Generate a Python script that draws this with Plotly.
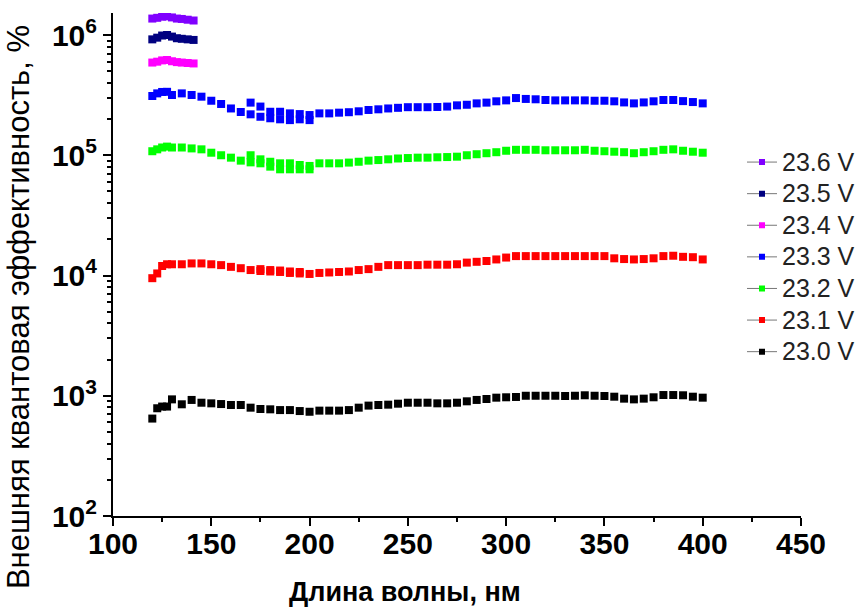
import plotly.graph_objects as go

# Wavelength grid (nm) of the full scans
wl = [120, 122.5, 125, 127.5, 130, 135, 140, 145, 150, 155, 160, 165, 170, 175,
      180, 185, 190, 195, 200, 205, 210, 215, 220, 225, 230, 235, 240, 245,
      250, 255, 260, 265, 270, 275, 280, 285, 290, 295, 300, 305, 310, 315,
      320, 325, 330, 335, 340, 345, 350, 355, 360, 365, 370, 375, 380, 385,
      390, 395, 400]
# Short scans at the highest bias
wl_short = [120, 122.5, 125, 127.5, 130, 132.5, 135, 138, 141]
# Repeated segment of the scan (overlap region)
wl_rep = [170, 175, 180, 185, 190, 195, 200]
wl_rep_red = [175, 180, 185, 190, 195]

eqe_236 = [1.37e6, 1.39e6, 1.42e6, 1.43e6, 1.40e6, 1.37e6, 1.36e6, 1.34e6, 1.32e6]
eqe_235 = [9.2e5, 9.5e5, 9.9e5, 1.0e6, 9.7e5, 9.4e5, 9.3e5, 9.2e5, 9.1e5]
eqe_234 = [5.9e5, 6.0e5, 6.15e5, 6.2e5, 6.05e5, 5.95e5, 5.9e5, 5.85e5, 5.8e5]

eqe_233 = [3.11e5, 3.27e5, 3.36e5, 3.37e5, 3.17e5, 3.27e5, 3.17e5, 3.07e5, 2.84e5,
           2.67e5, 2.45e5, 2.29e5, 2.19e5, 2.09e5, 2.03e5, 1.99e5, 1.96e5, 1.99e5,
           1.96e5, 2.23e5, 2.23e5, 2.26e5, 2.28e5, 2.32e5, 2.38e5, 2.41e5, 2.45e5,
           2.48e5, 2.51e5, 2.51e5, 2.51e5, 2.52e5, 2.54e5, 2.60e5, 2.63e5, 2.70e5,
           2.74e5, 2.81e5, 2.86e5, 2.99e5, 2.94e5, 2.92e5, 2.88e5, 2.86e5, 2.86e5,
           2.86e5, 2.86e5, 2.84e5, 2.84e5, 2.81e5, 2.75e5, 2.70e5, 2.75e5, 2.81e5,
           2.88e5, 2.88e5, 2.82e5, 2.77e5, 2.70e5]
eqe_233_rep = [2.74e5, 2.54e5, 2.30e5, 2.30e5, 2.23e5, 2.20e5, 2.16e5]

eqe_232 = [1.08e5, 1.12e5, 1.16e5, 1.18e5, 1.16e5, 1.16e5, 1.14e5, 1.12e5, 1.05e5,
           1.00e5, 9.55e4, 9.02e4, 8.73e4, 8.57e4, 8.04e4, 7.64e4, 7.64e4, 7.64e4,
           7.64e4, 8.57e4, 8.57e4, 8.57e4, 8.69e4, 8.83e4, 9.02e4, 9.12e4, 9.25e4,
           9.40e4, 9.48e4, 9.55e4, 9.55e4, 9.62e4, 9.66e4, 9.73e4, 1.00e5, 1.02e5,
           1.04e5, 1.06e5, 1.09e5, 1.11e5, 1.11e5, 1.11e5, 1.10e5, 1.10e5, 1.10e5,
           1.10e5, 1.11e5, 1.09e5, 1.08e5, 1.07e5, 1.06e5, 1.04e5, 1.06e5, 1.08e5,
           1.11e5, 1.12e5, 1.09e5, 1.07e5, 1.05e5]
eqe_232_rep = [1.00e5, 9.25e4, 8.83e4, 8.57e4, 8.57e4, 8.30e4, 8.15e4]

eqe_231 = [9.5e3, 1.04e4, 1.20e4, 1.24e4, 1.24e4, 1.24e4, 1.26e4, 1.26e4, 1.24e4,
           1.22e4, 1.18e4, 1.15e4, 1.11e4, 1.09e4, 1.08e4, 1.07e4, 1.05e4, 1.04e4,
           1.03e4, 1.05e4, 1.06e4, 1.07e4, 1.08e4, 1.11e4, 1.13e4, 1.18e4, 1.22e4,
           1.22e4, 1.22e4, 1.22e4, 1.23e4, 1.23e4, 1.23e4, 1.24e4, 1.28e4, 1.30e4,
           1.32e4, 1.36e4, 1.41e4, 1.45e4, 1.45e4, 1.45e4, 1.45e4, 1.45e4, 1.45e4,
           1.45e4, 1.45e4, 1.45e4, 1.45e4, 1.39e4, 1.37e4, 1.36e4, 1.37e4, 1.39e4,
           1.45e4, 1.46e4, 1.43e4, 1.42e4, 1.36e4]
eqe_231_rep = [1.13e4, 1.11e4, 1.10e4, 1.08e4, 1.07e4]

eqe_230 = [646, 787, 813, 813, 933, 849, 923, 875, 865, 853, 838, 838, 796, 776,
           771, 760, 760, 746, 736, 752, 752, 752, 760, 796, 828, 838, 843, 859,
           875, 875, 875, 865, 865, 875, 899, 923, 940, 964, 971, 977, 1000, 1000,
           1000, 1000, 995, 1000, 1009, 1000, 995, 982, 946, 933, 946, 971, 1014,
           1014, 1009, 982, 964]

labels = ["23.6 V", "23.5 V", "23.4 V", "23.3 V", "23.2 V", "23.1 V", "23.0 V"]
colors = ["#8000FF", "#000080", "#FF00FF", "#0000FF", "#00FF00", "#FF0000", "#000000"]

series = [
    (wl_short, eqe_236, [], []),
    (wl_short, eqe_235, [], []),
    (wl_short, eqe_234, [], []),
    (wl, eqe_233, wl_rep, eqe_233_rep),
    (wl, eqe_232, wl_rep, eqe_232_rep),
    (wl, eqe_231, wl_rep_red, eqe_231_rep),
    (wl, eqe_230, [], []),
]

fig = go.Figure()

# data points
for (x, y, xr, yr), c in zip(series, colors):
    pts = sorted(zip(list(x) + list(xr), list(y) + list(yr)), key=lambda p: p[0])
    fig.add_trace(go.Scatter(
        x=[p[0] for p in pts], y=[p[1] for p in pts], mode="markers",
        marker=dict(symbol="square", size=8, color=c, line=dict(width=0)),
        showlegend=False, hoverinfo="x+y"))

# legend entries (line + symbol); larger text on a compact row pitch
for lab, c in zip(labels, colors):
    fig.add_trace(go.Scatter(
        x=[None], y=[None], mode="lines+markers",
        name=f'<span style="font-size:25px">{lab}</span>',
        line=dict(color="#777777", width=1),
        marker=dict(symbol="square", size=6, color=c, line=dict(width=0))))

tick_font = dict(family="Liberation Sans, Arial", size=30, color="black", weight="bold")

fig.update_layout(
    width=865, height=613,
    margin=dict(l=113, r=64, t=13, b=97, autoexpand=False),
    paper_bgcolor="white", plot_bgcolor="white",
    showlegend=True,
    legend=dict(x=(742 - 113) / 688, y=0.745, xanchor="left", yanchor="top",
                bgcolor="rgba(0,0,0,0)", borderwidth=0,
                font=dict(family="Liberation Sans, Arial", size=22, color="#222222"),
                tracegroupgap=0),
    xaxis=dict(range=[100, 450], tickmode="linear", tick0=100, dtick=50,
               showline=True, linecolor="black", linewidth=2,
               ticks="outside", ticklen=8, tickwidth=2, tickcolor="black",
               ticklabelstandoff=-8,
               minor=dict(ticks="outside", ticklen=4, tickwidth=1.5,
                          tickcolor="black", dtick=25, showgrid=False),
               showgrid=False, zeroline=False, tickfont=tick_font),
    yaxis=dict(type="log", range=[2, 6.183],
               tickvals=[1e2, 1e3, 1e4, 1e5, 1e6],
               ticktext=["10<sup>2</sup>", "10<sup>3</sup>", "10<sup>4</sup>",
                         "10<sup>5</sup>", "10<sup>6</sup>"],
               showline=True, linecolor="black", linewidth=2,
               ticks="outside", ticklen=8, tickwidth=2, tickcolor="black",
               minor=dict(ticks="outside", ticklen=4, tickwidth=1.5,
                          tickcolor="black", dtick="D1", showgrid=False),
               showgrid=False, zeroline=False, tickfont=tick_font),
)

fig.add_annotation(text="<b>Длина волны, нм</b>", xref="paper", yref="paper",
                   x=(405 - 113) / 688, y=-0.151, xanchor="center", yanchor="middle",
                   showarrow=False,
                   font=dict(family="Liberation Sans, Arial", size=27, color="black"))
fig.add_annotation(text="Внешняя квантовая эффективность, %", xref="paper", yref="paper",
                   x=-0.138, y=(516 - 307) / 503, xanchor="center", yanchor="middle",
                   textangle=-90, showarrow=False,
                   font=dict(family="Liberation Sans, Arial", size=31, color="black"))

fig.write_html("out.html")
